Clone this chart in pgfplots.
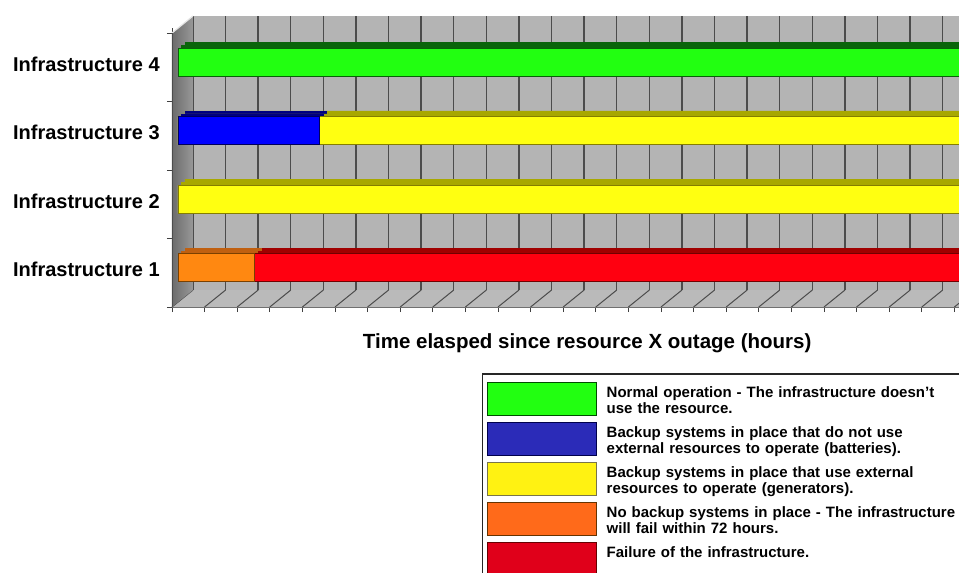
\documentclass[border=0pt]{standalone}
\usepackage{pgfplots}
\usepackage{pgfplotstable}
\pgfplotsset{compat=1.18}
\usepackage{fontspec}
\setmainfont{Liberation Sans}

\definecolor{wallc}{HTML}{B4B4B4}
\definecolor{gridc}{HTML}{4C4C4C}
\definecolor{floorc}{HTML}{BABABA}
\definecolor{lwallA}{HTML}{6C6C6C}
\definecolor{lwallB}{HTML}{989898}
\definecolor{gF}{HTML}{22FF11}\definecolor{gT}{HTML}{0A640A}\definecolor{gB}{HTML}{0B5E0B}
\definecolor{bF}{HTML}{0000FF}\definecolor{bT}{HTML}{000080}\definecolor{bB}{HTML}{00005A}
\definecolor{yF}{HTML}{FFFF11}\definecolor{yT}{HTML}{A8A800}\definecolor{yB}{HTML}{857E00}
\definecolor{oF}{HTML}{FF8811}\definecolor{oT}{HTML}{C06010}\definecolor{oB}{HTML}{7A4000}
\definecolor{rF}{HTML}{FF0010}\definecolor{rT}{HTML}{A00000}\definecolor{rB}{HTML}{700000}
\definecolor{lgF}{HTML}{22FF11}
\definecolor{lbF}{HTML}{2B2BB8}
\definecolor{lyF}{HTML}{FFF212}
\definecolor{loF}{HTML}{FF6A1A}
\definecolor{lrF}{HTML}{E0001A}

% end time (hours) of each coloured segment, per infrastructure (y = 1..4)
\pgfplotstableread{
cat end
4 72
}\greendata
\pgfplotstableread{
cat end
3 72
2 72
}\yellowdata
\pgfplotstableread{
cat end
1 72
}\reddata
\pgfplotstableread{
cat end
3 13
}\bluedata
\pgfplotstableread{
cat end
1 7
}\orangedata

\pgfplotsset{
  backface/.style={forget plot, fill=#1, draw=#1, line width=0.5pt, xshift=13pt, yshift=11pt},
  midface/.style={forget plot, fill=#1, draw=#1, line width=0.5pt, xshift=9.5pt, yshift=8pt},
  frontface/.style 2 args={forget plot, fill=#1, draw=#2, line width=0.8pt, xshift=6pt, yshift=5pt},
  leg/.style 2 args={legend image code/.code={\draw[fill=#1, draw=#2, line width=1pt] (0pt,-16.5pt) rectangle (109pt,16.5pt);}},
}

\begin{document}
\begin{tikzpicture}[x=1pt,y=1pt]
\useasboundingbox (0,0) rectangle (959,-573);
\clip (0,0) rectangle (959,-573);
\begin{axis}[
  at={(172pt,-307pt)}, anchor=south west,
  scale only axis, width=782.4pt, height=274pt,
  xmin=0, xmax=72, ymin=0.5, ymax=4.5,
  clip=false,
  axis line style={draw=none},
  xbar, bar width=28pt, bar shift=0pt,
  tick align=outside, major tick length=5pt,
  tick style={draw=black!75, line width=0.9pt},
  xtick={0,3,...,72}, xticklabels={},
  ytick={0.5,1.5,2.5,3.5,4.5}, yticklabels={},
  extra y ticks={1,2,3,4},
  extra y tick labels={Infrastructure 1,Infrastructure 2,Infrastructure 3,Infrastructure 4},
  extra y tick style={tick style={draw=none},
     yticklabel style={font=\fontsize{20}{24}\selectfont\bfseries, anchor=east, inner sep=0pt, xshift=-7pt, yshift=3pt}},
  xlabel={Time elasped since resource X outage (hours)},
  xlabel style={font=\fontsize{20.5}{24}\selectfont\bfseries, at={(axis description cs:0.5,0)}, anchor=center, yshift=-36pt, xshift=24pt},
  legend style={at={(axis description cs:0.3962,-0.2409)}, anchor=north west,
     draw=black!85, line width=1.5pt, fill=white,
     inner xsep=4pt, inner ysep=8pt, column sep=10pt, row sep=6pt,
     font=\fontsize{15}{16.5}\selectfont\bfseries,
     nodes={align=left, text width=360pt, inner sep=0pt, anchor=west, yshift=6pt}},
  legend cell align=left,
]
% back wall
\fill[wallc] ([shift={(21pt,17pt)}]axis cs:0,0.5) rectangle ([shift={(21pt,17pt)}]axis cs:75,4.5);
\pgfplotsinvokeforeach{0,3,...,72}{
  \draw[gridc, line width=1.4pt] ([shift={(21pt,17pt)}]axis cs:#1,0.5) -- ([shift={(21pt,17pt)}]axis cs:#1,4.5);
}
% floor
\fill[floorc] (axis cs:0,0.5) -- (axis cs:75,0.5) -- ([shift={(21pt,17pt)}]axis cs:75,0.5) -- ([shift={(21pt,17pt)}]axis cs:0,0.5) -- cycle;
\pgfplotsinvokeforeach{0,3,...,72}{
  \draw[gridc, line width=1pt] (axis cs:#1,0.5) -- ([shift={(21pt,17pt)}]axis cs:#1,0.5);
}
\draw[gridc!80, line width=0.8pt] (axis cs:0,0.5) -- (axis cs:75,0.5);
% left wall
\shade[left color=lwallA, right color=lwallB] (axis cs:0,0.5) -- (axis cs:0,4.5) -- ([shift={(21pt,17pt)}]axis cs:0,4.5) -- ([shift={(21pt,17pt)}]axis cs:0,0.5) -- cycle;
\draw[white!80!gray, line width=1.2pt] (axis cs:0,4.5) -- ([shift={(21pt,17pt)}]axis cs:0,4.5);
\draw[gridc, line width=0.8pt] (axis cs:0,0.5) -- (axis cs:0,4.5);

% bar top faces (drawn behind the front faces)
\addplot[backface=gT] table[x=end,y=cat] {\greendata};
\addplot[backface=yT] table[x=end,y=cat] {\yellowdata};
\addplot[backface=rT] table[x=end,y=cat] {\reddata};
\addplot[backface=bT] table[x=end,y=cat] {\bluedata};
\addplot[backface=oT] table[x=end,y=cat] {\orangedata};
\addplot[midface=gT] table[x=end,y=cat] {\greendata};
\addplot[midface=yT] table[x=end,y=cat] {\yellowdata};
\addplot[midface=rT] table[x=end,y=cat] {\reddata};
\addplot[midface=bT] table[x=end,y=cat] {\bluedata};
\addplot[midface=oT] table[x=end,y=cat] {\orangedata};
% bar front faces
\addplot[frontface={gF}{gB}] table[x=end,y=cat] {\greendata};
\addplot[frontface={yF}{yB}] table[x=end,y=cat] {\yellowdata};
\addplot[frontface={rF}{rB}] table[x=end,y=cat] {\reddata};
\addplot[frontface={bF}{bB}] table[x=end,y=cat] {\bluedata};
\addplot[frontface={oF}{oB}] table[x=end,y=cat] {\orangedata};

\addlegendimage{leg={lgF}{green!30!black}}
\addlegendentry{Normal operation - The infrastructure doesn\char39 t\\use the resource.}
\addlegendimage{leg={lbF}{blue!30!black}}
\addlegendentry{Backup systems in place that do not use\\external resources to operate (batteries).}
\addlegendimage{leg={lyF}{yellow!40!black}}
\addlegendentry{Backup systems in place that use external\\resources to operate (generators).}
\addlegendimage{leg={loF}{orange!40!black}}
\addlegendentry{No backup systems in place - The infrastructure\\will fail within 72 hours.}
\addlegendimage{leg={lrF}{red!40!black}}
\addlegendentry{Failure of the infrastructure.}
\end{axis}
\end{tikzpicture}
\end{document}
